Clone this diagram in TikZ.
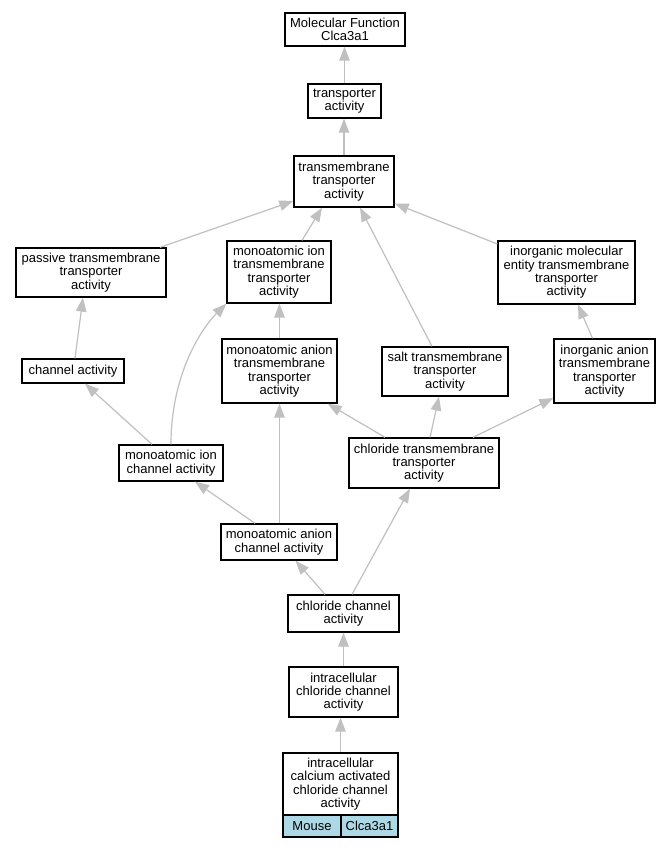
\documentclass[tikz,border=0pt]{standalone}
\usepackage{fontspec}
\setmainfont{Liberation Sans}
\usetikzlibrary{arrows.meta}
\definecolor{edgegray}{RGB}{192,192,192}
\definecolor{cellblue}{RGB}{173,216,230}
\begin{document}
\begin{tikzpicture}[x=1pt,y=-1pt,
  box/.style={draw=black,line width=1.3pt,inner sep=0pt,align=center,font=\fontsize{13}{13.3}\selectfont},
  cell/.style={draw=black,line width=1.3pt,fill=cellblue,inner sep=0pt,minimum height=22pt,font=\fontsize{13}{13.3}\selectfont},
  edge/.style={draw=edgegray,line width=1.2pt,-{Triangle[length=14pt,width=10.5pt]}}]
\useasboundingbox (0,0) rectangle (669,848);
\fill[white] (0,0) rectangle (669,848);
% nodes
\node[box,minimum width=120pt,minimum height=33pt] (mf) at (345,29.5) {Molecular Function\\Clca3a1};
\node[box,minimum width=73pt,minimum height=34pt] (trans) at (344.5,101) {transporter\\activity};
\node[box,minimum width=100pt,minimum height=51pt] (tta) at (344,181.5) {transmembrane\\transporter\\activity};
\node[box,minimum width=150pt,minimum height=49pt] (passive) at (91,272.5) {passive transmembrane\\transporter\\activity};
\node[box,minimum width=104pt,minimum height=62pt] (mita) at (279,272) {monoatomic ion\\transmembrane\\transporter\\activity};
\node[box,minimum width=137pt,minimum height=63pt] (imeta) at (566.5,272.5) {inorganic molecular\\entity transmembrane\\transporter\\activity};
\node[box,minimum width=102pt,minimum height=24pt] (ca) at (73,371) {channel activity};
\node[box,minimum width=115pt,minimum height=64pt] (mata) at (279.5,371) {monoatomic anion\\transmembrane\\transporter\\activity};
\node[box,minimum width=126pt,minimum height=49pt] (salt) at (445,371.5) {salt transmembrane\\transporter\\activity};
\node[box,minimum width=101pt,minimum height=64pt] (iata) at (604.5,371) {inorganic anion\\transmembrane\\transporter\\activity};
\node[box,minimum width=104pt,minimum height=36pt] (mica) at (171,463) {monoatomic ion\\channel activity};
\node[box,minimum width=150pt,minimum height=50pt] (ctta) at (424,463) {chloride transmembrane\\transporter\\activity};
\node[box,minimum width=116pt,minimum height=36pt] (maca) at (279,542) {monoatomic anion\\channel activity};
\node[box,minimum width=111pt,minimum height=37pt] (cca) at (343.5,613.5) {chloride channel\\activity};
\node[box,minimum width=109pt,minimum height=50pt] (icca) at (343.5,692) {intracellular\\chloride channel\\activity};
\node[box,minimum width=115pt,minimum height=62pt] (leaf) at (340.5,784) {intracellular\\calcium activated\\chloride channel\\activity};
\node[cell,minimum width=58pt] (mouse) at (312,826) {Mouse};
\node[cell,minimum width=57pt] (gene) at (369.5,826) {Clca3a1};
% edges
\draw[edge] (trans.north) -- (trans.north |- mf.south);
\draw[edge] (tta.north) -- (tta.north |- trans.south);
\draw[edge] ([xshift=69pt]passive.north) -- ([yshift=-19.5pt]tta.west);
\draw[edge] ([xshift=23pt]mita.north) -- ([xshift=-22pt]tta.south);
\draw[edge] ([xshift=-13pt]salt.north) -- ([xshift=16pt]tta.south);
\draw[edge] ([yshift=28.5pt]imeta.west) -- ([yshift=-22pt]tta.east);
\draw[edge] ([xshift=2pt]ca.north) -- ([xshift=-8pt]passive.south);
\draw[edge] ([xshift=-19pt]mica.north) -- ([xshift=12pt]ca.south);
\draw[edge] (mica.north) .. controls ([yshift=70pt]mica.north) and ([xshift=-25pt,yshift=-25pt]mita.south west) .. (mita.south west);
\draw[edge] (mata.north) -- (mata.north |- mita.south);
\draw[edge] ([xshift=-39pt]ctta.north) -- ([xshift=-10pt]mata.south east);
\draw[edge] ([xshift=6pt]ctta.north) -- ([xshift=-6pt]salt.south);
\draw[edge] ([xshift=49pt]ctta.north) -- ([yshift=-27pt]iata.west);
\draw[edge] ([xshift=-12pt]iata.north) -- ([xshift=11.5pt]imeta.south);
\draw[edge] ([xshift=-24pt]maca.north) -- ([xshift=24pt]mica.south);
\draw[edge] ([xshift=0.5pt]maca.north) -- ([xshift=0.5pt]maca.north |- mata.south);
\draw[edge] ([xshift=-18.5pt]cca.north) -- ([xshift=16.5pt]maca.south);
\draw[edge] ([xshift=8.5pt]cca.north) -- ([xshift=-14pt]ctta.south);
\draw[edge] (icca.north) -- (icca.north |- cca.south);
\draw[edge] (leaf.north) -- (leaf.north |- icca.south);
\end{tikzpicture}
\end{document}
